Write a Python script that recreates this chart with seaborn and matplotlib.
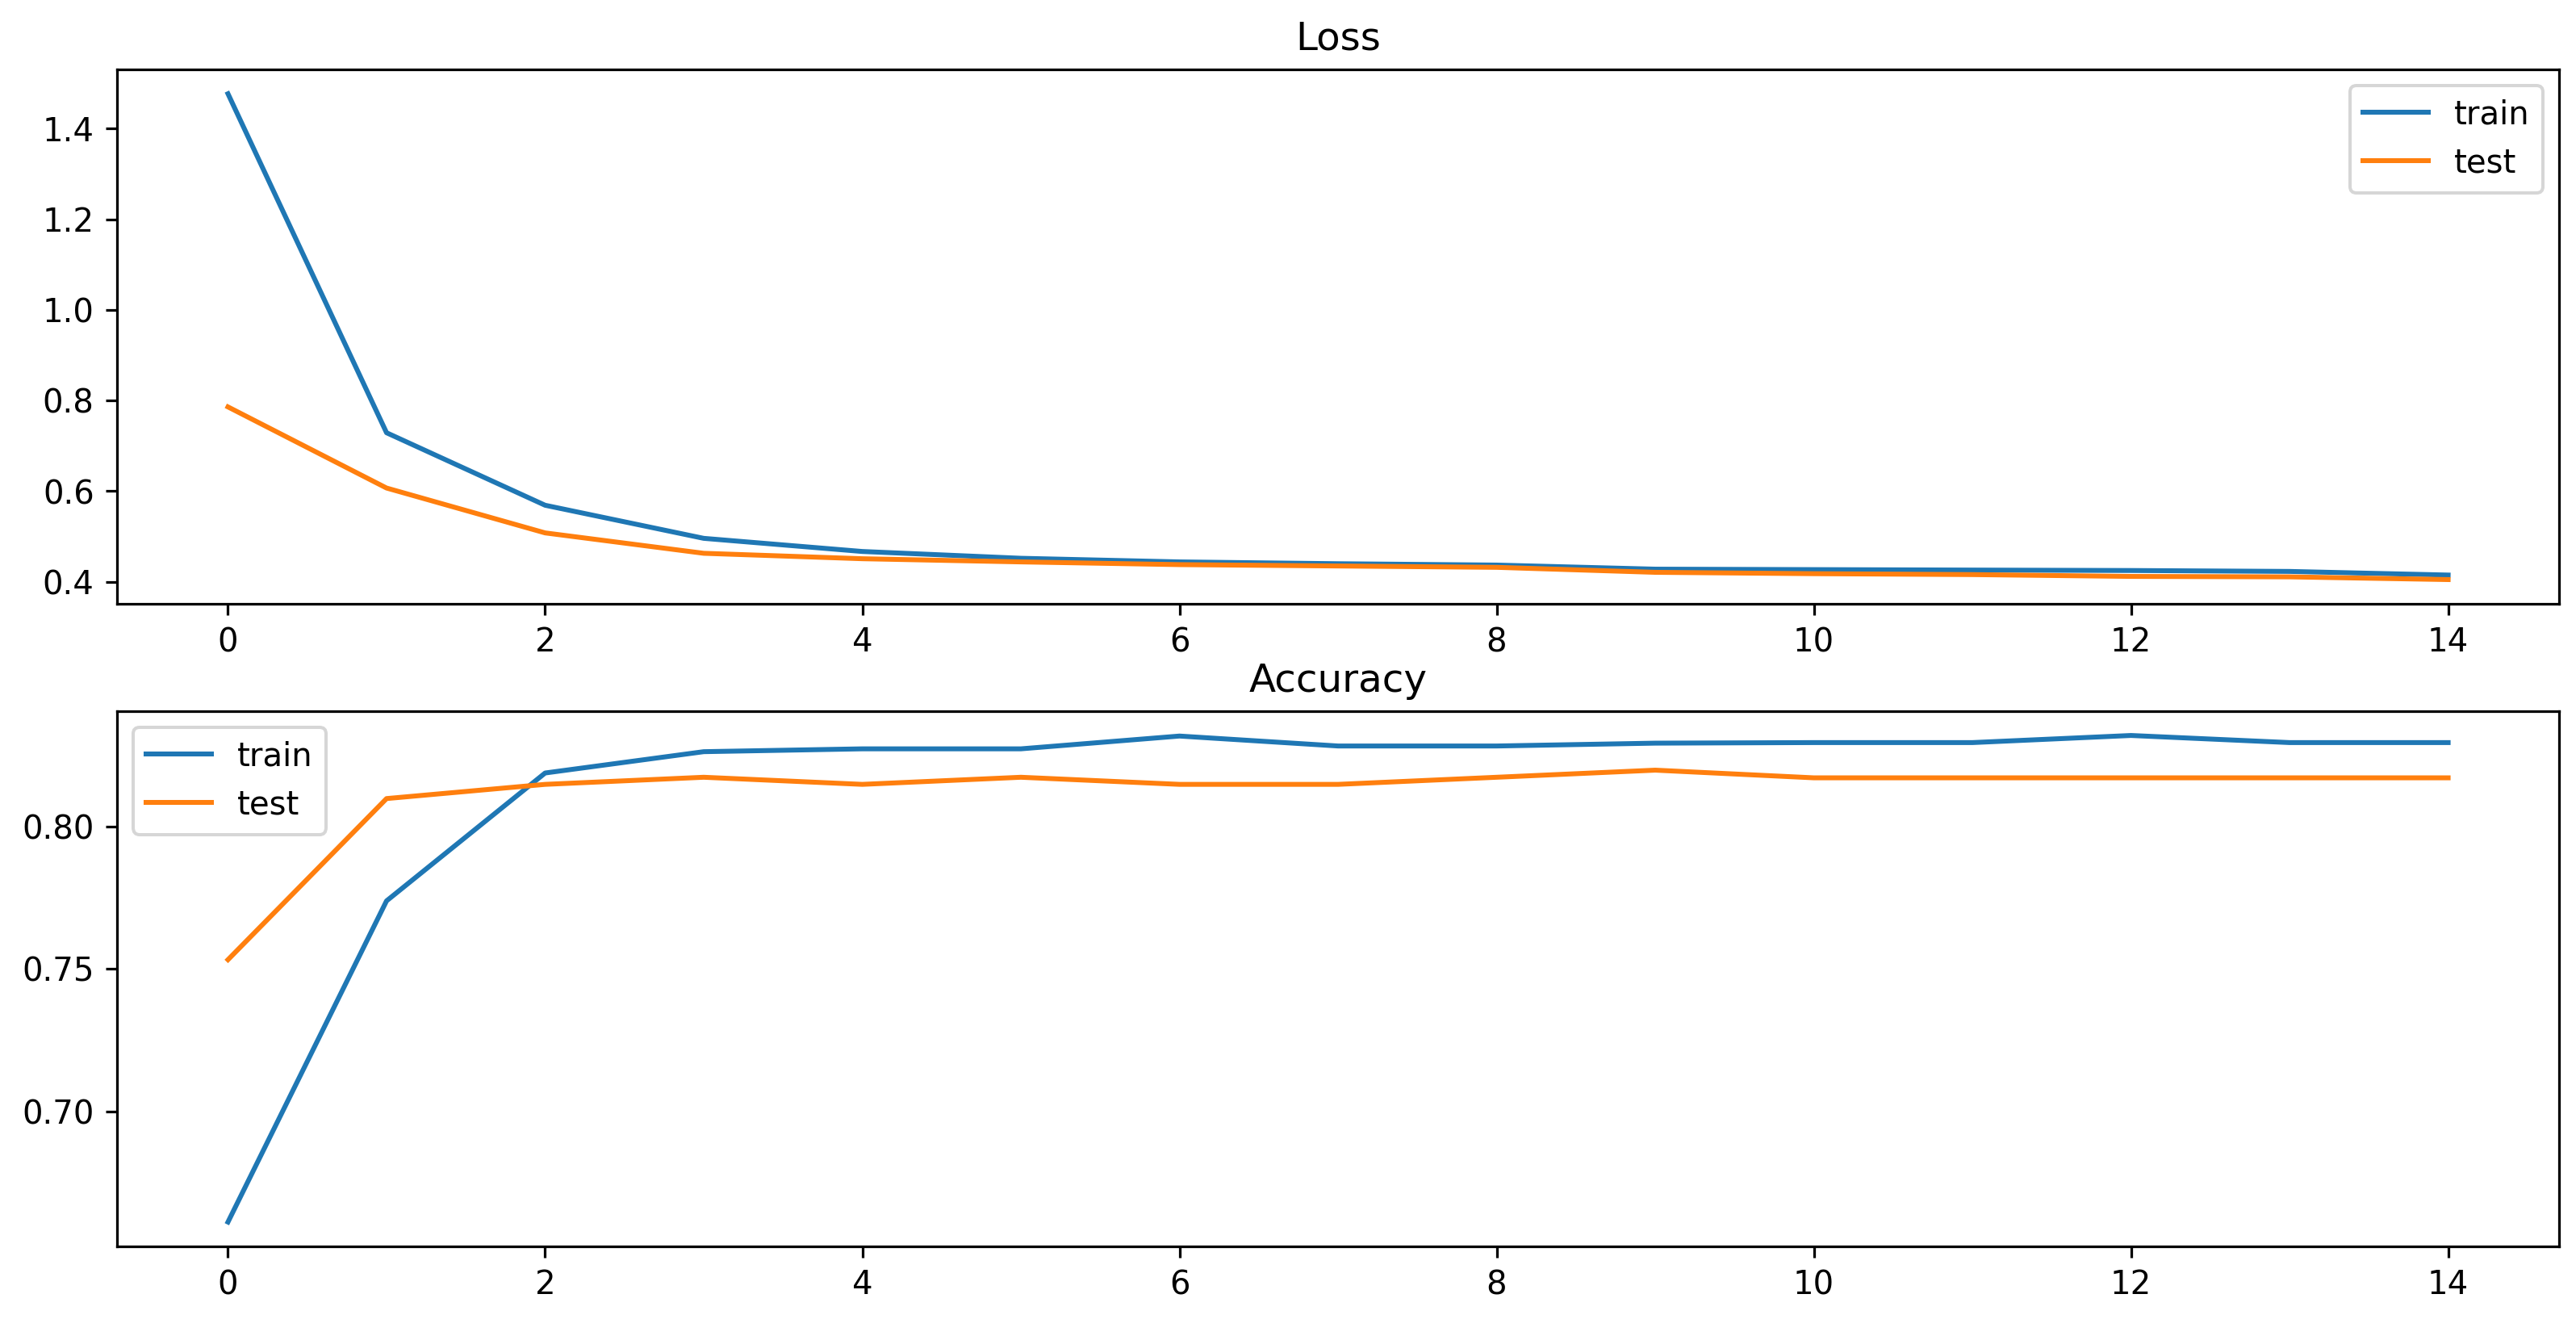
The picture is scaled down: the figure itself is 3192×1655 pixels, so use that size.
import numpy as np
import pandas as pd
import matplotlib
matplotlib.use("Agg")
import matplotlib.pyplot as plt
import seaborn as sns
from matplotlib.ticker import MultipleLocator

# =======================
# Data
# =======================
epochs = list(range(15))

loss_train = [1.477, 0.729, 0.569, 0.496, 0.467, 0.452, 0.444, 0.440,
              0.437, 0.428, 0.427, 0.426, 0.425, 0.423, 0.415]
loss_test = [0.786, 0.607, 0.508, 0.463, 0.451, 0.444, 0.438, 0.435,
             0.432, 0.421, 0.418, 0.416, 0.412, 0.411, 0.405]

acc_train = [0.661, 0.774, 0.819, 0.8265, 0.8275, 0.8275, 0.832, 0.8285,
             0.8285, 0.8295, 0.8297, 0.8297, 0.8322, 0.8297, 0.8297]
acc_test = [0.7533, 0.810, 0.815, 0.8175, 0.815, 0.8175, 0.815, 0.815,
            0.8175, 0.820, 0.8173, 0.8173, 0.8173, 0.8173, 0.8173]

# =======================
# Plot
# =======================
fig = plt.figure(figsize=(11, 5.703), dpi=290.2)
ax1 = fig.add_axes([0.0454, 0.548, 0.948, 0.400])
ax2 = fig.add_axes([0.0454, 0.0671, 0.948, 0.4006])

sns.lineplot(x=epochs, y=loss_train, color="C0", label="train", ax=ax1)
sns.lineplot(x=epochs, y=loss_test, color="C1", label="test", ax=ax1)
ax1.set_title("Loss")
ax1.legend(loc="upper right")

sns.lineplot(x=epochs, y=acc_train, color="C0", label="train", ax=ax2)
sns.lineplot(x=epochs, y=acc_test, color="C1", label="test", ax=ax2)
ax2.set_title("Accuracy")
ax2.yaxis.set_major_locator(MultipleLocator(0.05))
ax2.legend(loc="upper left")

fig.savefig("out.png", dpi=290.2)
